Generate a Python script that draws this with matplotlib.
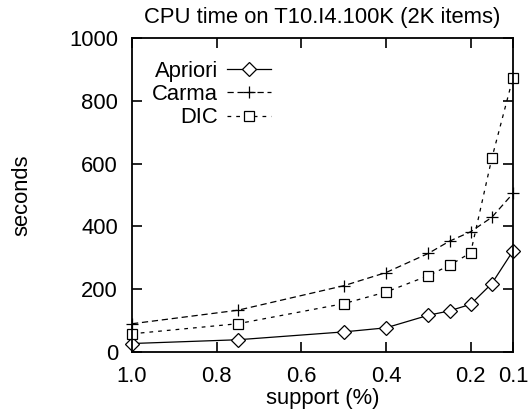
import matplotlib
matplotlib.use("Agg")
import matplotlib.pyplot as plt

plt.rcParams['font.family'] = ['Liberation Sans', 'DejaVu Sans']

# support (%) and CPU time in seconds
support = [1.0, 0.75, 0.5, 0.4, 0.3, 0.25, 0.2, 0.15, 0.1]
apriori = [27, 39, 64, 77, 117, 131, 152, 218, 322]
carma = [90, 133, 211, 253, 314, 353, 383, 429, 505]
dic = [58, 90, 154, 191, 243, 276, 316, 617, 874]

xticks = [1.0, 0.8, 0.6, 0.4, 0.2, 0.1]
xtick_labels = ['1.0', '0.8', '0.6', '0.4', '0.2', '0.1']
yticks = [0, 200, 400, 600, 800, 1000]

fs = 15.8
fig = plt.figure(figsize=(5.3, 4.17), dpi=100)
ax = fig.add_axes([132 / 530, 1 - 352 / 417, (513 - 132) / 530, (352 - 38) / 417])

ax.plot(support, apriori, color='black', lw=0.9, ls='-', clip_on=False,
        marker='D', ms=7, mfc='white', mec='black', mew=0.9, label='Apriori')
ax.plot(support, carma, color='black', lw=0.9, ls=(0, (5, 3)), clip_on=False,
        marker='+', ms=9, mew=0.9, label='Carma')
ax.plot(support, dic, color='black', lw=0.9, ls=(0, (3, 4)), clip_on=False,
        marker='s', ms=7.5, mfc='white', mec='black', mew=0.9, label='DIC')

ax.set_xlim(1.0, 0.1)
ax.set_ylim(0, 1000)
ax.set_xticks(xticks)
ax.set_xticklabels(xtick_labels)
ax.set_yticks(yticks)
ax.tick_params(direction='in', length=7, width=1.2, labelsize=fs,
               top=True, right=True)
ax.tick_params(axis='y', pad=10)
ax.tick_params(axis='x', pad=10)
for s in ax.spines.values():
    s.set_linewidth(1.3)

ax.set_title('CPU time on T10.I4.100K (2K items)', fontsize=fs, pad=11)
ax.set_xlabel('support (%)', fontsize=fs)
ax.set_ylabel('seconds', fontsize=fs)
ax.xaxis.set_label_coords(0.5, -0.115)
ax.yaxis.set_label_coords(-0.262, 0.5)

ax.legend(loc='upper left', markerfirst=False, frameon=False, fontsize=fs,
          handlelength=2.0, handletextpad=0.4, labelspacing=0.1,
          borderaxespad=0.0, bbox_to_anchor=(0.03, 0.955))

fig.savefig('out.png', dpi=100)
